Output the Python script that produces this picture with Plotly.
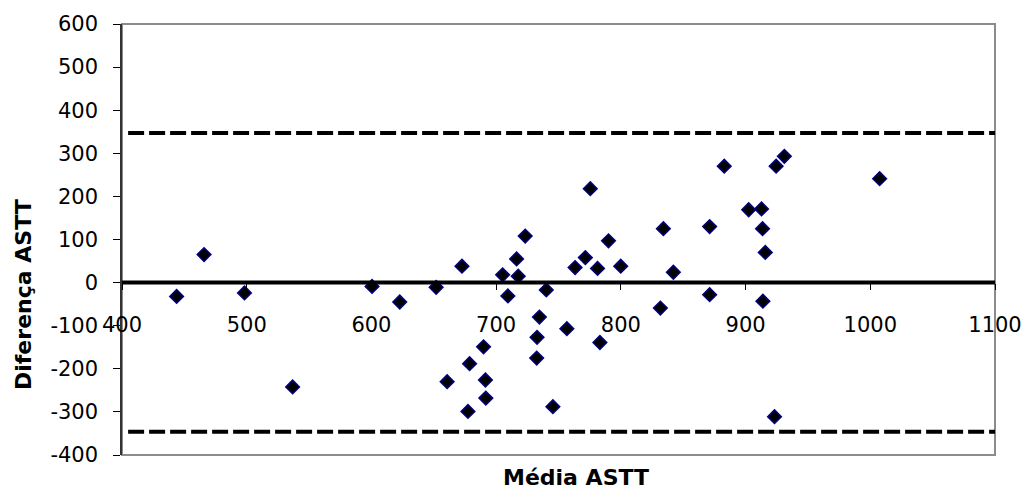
import plotly.graph_objects as go

# Bland-Altman: mean of the two ASTT measurements vs. their difference
media = [443.8, 465.8, 498.2, 536.8, 600.5, 622.7, 651.9, 660.7, 672.6, 677.4,
         678.7, 689.9, 691.4, 691.7, 705.2, 709.4, 716.4, 717.7, 723.3, 732.5,
         732.8, 734.7, 740.2, 745.5, 756.7, 763.3, 771.5, 775.5, 781.3, 783.2,
         790.1, 799.9, 831.7, 834.1, 842.1, 871.2, 871.2, 882.9, 902.5, 912.8,
         913.6, 913.9, 915.8, 923.2, 924.5, 931.1, 1007.5]
diferenca = [-32, 65, -24, -242, -9, -45, -11, -230, 38, -299,
             -188, -149, -226, -268, 18, -31, 55, 15, 108, -175,
             -127, -80, -17, -288, -107, 35, 58, 218, 33, -139,
             97, 38, -59, 125, 24, 130, -28, 270, 169, 171,
             125, -43, 70, -311, 270, 293, 241]

media_diferenca = 0
limite_superior = 347
limite_inferior = -346

x_ticks = [400, 500, 600, 700, 800, 900, 1000, 1100]
y_ticks = [-400, -300, -200, -100, 0, 100, 200, 300, 400, 500, 600]

FONT = "DejaVu Sans"

fig = go.Figure()

fig.add_trace(go.Scatter(
    x=media, y=diferenca, mode="markers",
    marker=dict(symbol="diamond", size=10.5, color="#000000",
                line=dict(color="#000080", width=1.5)),
    showlegend=False, cliponaxis=False,
))

# mean line and limits of agreement
fig.add_shape(type="line", xref="paper", yref="y", x0=0, x1=1,
              y0=media_diferenca, y1=media_diferenca,
              line=dict(color="black", width=4))
for lim in (limite_superior, limite_inferior):
    fig.add_shape(type="line", xref="paper", yref="y", x0=0.007, x1=1,
                  y0=lim, y1=lim,
                  line=dict(color="black", width=4, dash="16px,5px"))

# plot-area frame
fig.add_shape(type="rect", xref="paper", yref="paper", x0=0, x1=1, y0=0, y1=1,
              line=dict(color="#8c8c8c", width=2), layer="below")

fig.update_layout(
    width=1034, height=490,
    margin=dict(l=122, r=32, t=22, b=35),
    plot_bgcolor="white", paper_bgcolor="white",
    font=dict(family=FONT, size=21, color="black"),
    xaxis=dict(
        range=[400, 1100], tickvals=x_ticks, ticktext=[str(v) for v in x_ticks],
        anchor="free", position=0.4, showgrid=False, zeroline=False,
        showline=False, ticks="outside", ticklen=6, tickwidth=1,
        tickcolor="black", ticklabelstandoff=17,
        tickfont=dict(family=FONT, size=21),
    ),
    yaxis=dict(
        range=[-400, 600], tickvals=y_ticks, ticktext=[str(v) for v in y_ticks],
        showgrid=False, zeroline=False, showline=True, linecolor="#333333",
        linewidth=1.5, ticks="outside", ticklen=7, tickwidth=1,
        tickcolor="black", ticklabelstandoff=11,
        tickfont=dict(family=FONT, size=21),
    ),
    annotations=[
        dict(text="<b>Média ASTT</b>", xref="paper", yref="paper",
             x=0.52, y=-0.053, xanchor="center", yanchor="middle",
             showarrow=False, font=dict(family=FONT, size=22)),
        dict(text="<b>Diferença ASTT</b>", xref="paper", yref="paper",
             x=-0.113, y=0.372, xanchor="center", yanchor="middle",
             textangle=-90, showarrow=False, font=dict(family=FONT, size=22)),
    ],
)

fig.write_html("out.html")
